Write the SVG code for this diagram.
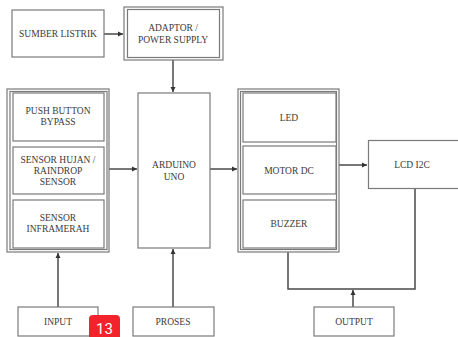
<svg xmlns="http://www.w3.org/2000/svg" width="458" height="337" viewBox="0 0 458 337">
<style>
.b{fill:#fff;stroke:#7a7a7a;stroke-width:1.2}
.t{font-family:"Liberation Serif","Times New Roman",serif;font-size:9.5px;fill:#3a3a3a;text-anchor:middle}
.c{fill:none;stroke:#4a4a4a;stroke-width:1.5}
</style>
<defs>
<marker id="a" markerWidth="6" markerHeight="6" refX="5" refY="3" orient="auto" markerUnits="userSpaceOnUse">
<path d="M0,0.5 L5,3 L0,5.5 Z" fill="#333"/>
</marker>
</defs>
<rect width="458" height="337" fill="#fff"/>
<g id="connectors">
<line class="c" x1="104" y1="34" x2="123" y2="34" marker-end="url(#a)"/>
<line class="c" x1="173" y1="60" x2="173" y2="92" marker-end="url(#a)"/>
<line class="c" x1="109" y1="169" x2="137" y2="169" marker-end="url(#a)"/>
<line class="c" x1="210" y1="169" x2="237" y2="169" marker-end="url(#a)"/>
<line class="c" x1="339" y1="165" x2="367" y2="165" marker-end="url(#a)"/>
<line class="c" x1="58" y1="307" x2="58" y2="253" marker-end="url(#a)"/>
<line class="c" x1="173" y1="307" x2="173" y2="249" marker-end="url(#a)"/>
<polyline class="c" points="288,252 288,289 415,289 415,189"/>
<line class="c" x1="353" y1="307" x2="353" y2="290" marker-end="url(#a)"/>
</g>
<g id="sumber-listrik">
<rect class="b" x="12" y="10" width="92" height="47"/>
<text class="t" x="58" y="37">SUMBER LISTRIK</text>
</g>
<g id="adaptor">
<rect class="b" x="124" y="7" width="99" height="53"/>
<rect class="b" x="127.5" y="9.5" width="92" height="48"/>
<text class="t" x="173" y="31">ADAPTOR /</text>
<text class="t" x="173" y="43">POWER SUPPLY</text>
</g>
<g id="input-group">
<rect class="b" x="7" y="89" width="102" height="163"/>
<rect class="b" x="10" y="91.5" width="97" height="158"/>
</g>
<g id="push-button">
<rect class="b" x="13" y="93" width="91" height="48"/>
<text class="t" x="58" y="114">PUSH BUTTON</text>
<text class="t" x="58" y="125">BYPASS</text>
</g>
<g id="sensor-hujan">
<rect class="b" x="13" y="147" width="91" height="47"/>
<text class="t" x="58" y="163">SENSOR HUJAN /</text>
<text class="t" x="58" y="174">RAINDROP</text>
<text class="t" x="58" y="185">SENSOR</text>
</g>
<g id="sensor-inframerah">
<rect class="b" x="13" y="200" width="91" height="48"/>
<text class="t" x="58" y="221">SENSOR</text>
<text class="t" x="58" y="232">INFRAMERAH</text>
</g>
<g id="arduino">
<rect class="b" x="138" y="93" width="72" height="155"/>
<text class="t" x="174" y="168">ARDUINO</text>
<text class="t" x="174" y="180">UNO</text>
</g>
<g id="output-group">
<rect class="b" x="238" y="89" width="101" height="163"/>
<rect class="b" x="240.5" y="91.5" width="96" height="158"/>
</g>
<g id="led">
<rect class="b" x="243" y="93" width="93" height="49"/>
<text class="t" x="289" y="121">LED</text>
</g>
<g id="motor-dc">
<rect class="b" x="243" y="146" width="93" height="48"/>
<text class="t" x="289" y="174">MOTOR DC</text>
</g>
<g id="buzzer">
<rect class="b" x="243" y="200" width="93" height="48"/>
<text class="t" x="289" y="227">BUZZER</text>
</g>
<g id="lcd">
<rect class="b" x="368.5" y="140.5" width="92" height="48"/>
<text class="t" x="412" y="168">LCD I2C</text>
</g>
<g id="input">
<rect class="b" x="18" y="307" width="80" height="29"/>
<text class="t" x="58" y="325">INPUT</text>
</g>
<g id="proses">
<rect class="b" x="133" y="307" width="81" height="29"/>
<text class="t" x="173" y="325">PROSES</text>
</g>
<g id="output">
<rect class="b" x="314" y="307" width="80" height="29"/>
<text class="t" x="354" y="325">OUTPUT</text>
</g>
<g id="badge">
<rect x="89" y="315" width="31" height="30" rx="4" fill="#f2232b"/>
<text x="104.5" y="334" font-family="Roboto,'Liberation Sans',sans-serif" font-size="15" fill="#fff" text-anchor="middle">13</text>
</g>
</svg>
